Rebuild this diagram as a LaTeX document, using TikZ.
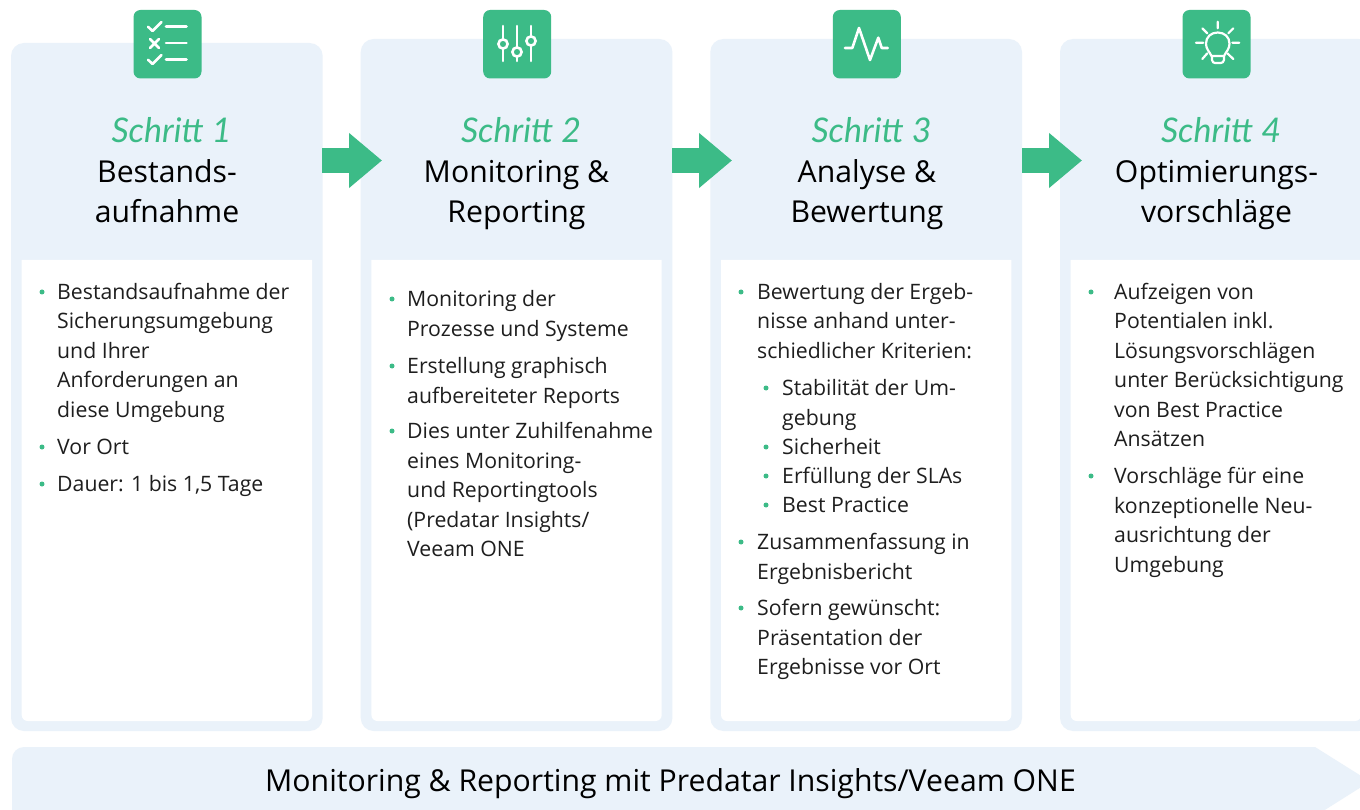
\documentclass[tikz,border=0pt]{standalone}
\usepackage{fontspec}
\setmainfont{Open Sans}
\newfontfamily\schrift{Lato}
\usetikzlibrary{arrows.meta,calc}
\definecolor{cardblue}{HTML}{EAF2FA}
\definecolor{brand}{HTML}{3CBB87}
\definecolor{ink}{HTML}{1E1E1E}
\tikzset{
  x=1pt,y=-1pt,
  cardbox/.style={fill=cardblue,rounded corners=13pt},
  iconbox/.style={fill=brand,rounded corners=7pt},
  iconline/.style={draw=white,line width=2.6pt,line cap=round,line join=round},
  flowarrow/.style={draw=brand,line width=25.5pt,-{Triangle[length=33pt,width=53pt,fill=brand]}},
  steplabel/.style={text=brand,font=\schrift\itshape\fontsize{34}{34}\selectfont,anchor=base,inner sep=0},
  headline/.style={text=black,font=\fontsize{30.2}{30.2}\selectfont,anchor=base,inner sep=0},
  bannerline/.style={text=black,font=\fontsize{30.2}{30.2}\selectfont,anchor=base,inner sep=0},
  bodyline/.style={text=ink,font=\fontsize{21.25}{29.5}\selectfont,anchor=base west,inner sep=0},
  dotmark/.style={fill=brand,circle,inner sep=0,minimum size=5pt},
}
\newcommand{\card}[2]{% left x, top y
  \fill[cardbox] (#1,#2) rectangle ++(311.7,731-#2);
  \fill[white] (#1+10.7,260) [rounded corners=6pt] -- (#1+10.7,721) -- (#1+301,721) [sharp corners] -- (#1+301,260) -- cycle;
  \fill[iconbox] (#1+122.5,10) rectangle ++(68,68.5);
}
\newcommand{\heads}[5]{% name, centre x, step text, line 1, line 2
  \node[steplabel] (#1s) at (#2+4.5,143) {#3};
  \node[headline] (#1a) at (#2,182.5) {#4};
  \node[headline] (#1b) at (#2,222.5) {#5};
}
\newcommand{\bulletitem}[5]{% name, bullet x, text x, first line centre y, lines
  \node[dotmark] (#1d) at (#2,#4) {};
  \node[bodyline] (#1) at (#3,#4+7.5) {\begin{tabular}[t]{@{}l@{}}#5\end{tabular}};
}
\begin{document}
\begin{tikzpicture}
\clip (0,0) rectangle (1360,810);
\fill[white] (0,0) rectangle (1360,810);
\card{11}{43}\card{360.7}{39}\card{710.3}{39}\card{1060}{39}

\draw[flowarrow] (322,160.5) -- (382,160.5);
\draw[flowarrow] (672,160.5) -- (732,160.5);
\draw[flowarrow] (1022,160.5) -- (1082,160.5);

\fill[cardblue] (12,813) [rounded corners=12pt] -- (12,747) [sharp corners] -- (1315,747) -- (1370,781.5) -- (1320,813) -- cycle;
\node[bannerline] (banner) at (670.5,791) {Monitoring \& Reporting mit Predatar Insights/Veeam ONE};

% icon 1
\draw[iconline] (148,26.7) -- (152.5,31) -- (161.5,22);
\draw[iconline] (150,39) -- (159,48) (159,39) -- (150,48);
\draw[iconline] (148,59.7) -- (152.5,64) -- (161.5,55);
\draw[iconline] (166,26.7) -- (186.5,26.7) (166,43) -- (186.5,43) (166,59.7) -- (186.5,59.7);
% icon 2
\draw[iconline] (503,26) -- (503,61) (517,26) -- (517,61) (531,26) -- (531,61);
\foreach \kx/\ky in {503/44,517/52,531/41}
  \draw[draw=white,fill=brand,line width=2.6pt] (\kx,\ky) circle[radius=4.6pt];
% icon 3
\draw[iconline] (845,48) -- (852.3,48) -- (859,28) -- (870,60) -- (878.3,37.7) -- (881.7,48) -- (887.7,48);
% icon 4
\draw[iconline,line width=2.2pt] (1211.5,56) .. controls (1209,51) and (1206,49) .. (1206,43.5) .. controls (1206,37) and (1211,32.5) .. (1217.7,32.5) .. controls (1224.5,32.5) and (1229.5,37) .. (1229.5,43.5) .. controls (1229.5,49) and (1226.5,51) .. (1224,56) -- cycle;
\draw[iconline,line width=2.2pt] (1212,56) -- (1212,60) .. controls (1212,62) and (1214,63) .. (1215,63) -- (1220.5,63) .. controls (1222,63) and (1224,62) .. (1224,60) -- (1224,56);
\draw[iconline,line width=2.2pt] (1217.7,21.7) -- (1217.7,28.3) (1196,42.7) -- (1203.3,42.7) (1232.3,42.7) -- (1239.3,42.7)
  (1202.3,28.3) -- (1207.3,33.3) (1233.3,28.3) -- (1228.3,33.3) (1202.3,59) -- (1207.3,53.3) (1233.3,59) -- (1227.3,53.3);

\heads{a}{167}{Schritt 1}{Bestands-}{aufnahme}
\heads{b}{516.5}{Schritt 2}{Monitoring \&}{Reporting}
\heads{c}{867}{Schritt 3}{Analyse \&}{Bewertung}
\heads{d}{1216.5}{Schritt 4}{Optimierungs-}{vorschläge}

\bulletitem{a1}{42}{57}{292}{Bestandsaufnahme der\\Sicherungsumgebung\\und Ihrer\\Anforderungen an\\diese Umgebung}
\bulletitem{a2}{42}{57}{447}{Vor Ort}
\bulletitem{a3}{42}{57}{484}{Dauer: 1 bis 1,5 Tage}

\bulletitem{b1}{392}{407}{299}{Monitoring der\\Prozesse und Systeme}
\bulletitem{b2}{392}{407}{366}{Erstellung graphisch\\aufbereiteter Reports}
\bulletitem{b3}{392}{407}{431}{Dies unter Zuhilfenahme\\eines Monitoring-\\und Reportingtools\\(Predatar Insights/\\Veeam ONE}

\bulletitem{c1}{741}{757}{292}{Bewertung der Ergeb-\\nisse anhand unter-\\schiedlicher Kriterien:}
\bulletitem{c2}{766}{782}{388}{Stabilität der Um-\\gebung}
\bulletitem{c3}{766}{782}{447}{Sicherheit}
\bulletitem{c4}{766}{782}{476}{Erfüllung der SLAs}
\bulletitem{c5}{766}{782}{505}{Best Practice}
\bulletitem{c6}{741}{757}{542}{Zusammenfassung in\\Ergebnisbericht}
\bulletitem{c7}{741}{757}{608}{Sofern gewünscht:\\Präsentation der\\Ergebnisse vor Ort}

\bulletitem{d1}{1091}{1114}{292}{Aufzeigen von\\Potentialen inkl.\\Lösungsvorschlägen\\unter Berücksichtigung\\von Best Practice\\Ansätzen}
\bulletitem{d2}{1091}{1114}{476}{Vorschläge für eine\\konzeptionelle Neu-\\ausrichtung der\\Umgebung}
\end{tikzpicture}
\end{document}
